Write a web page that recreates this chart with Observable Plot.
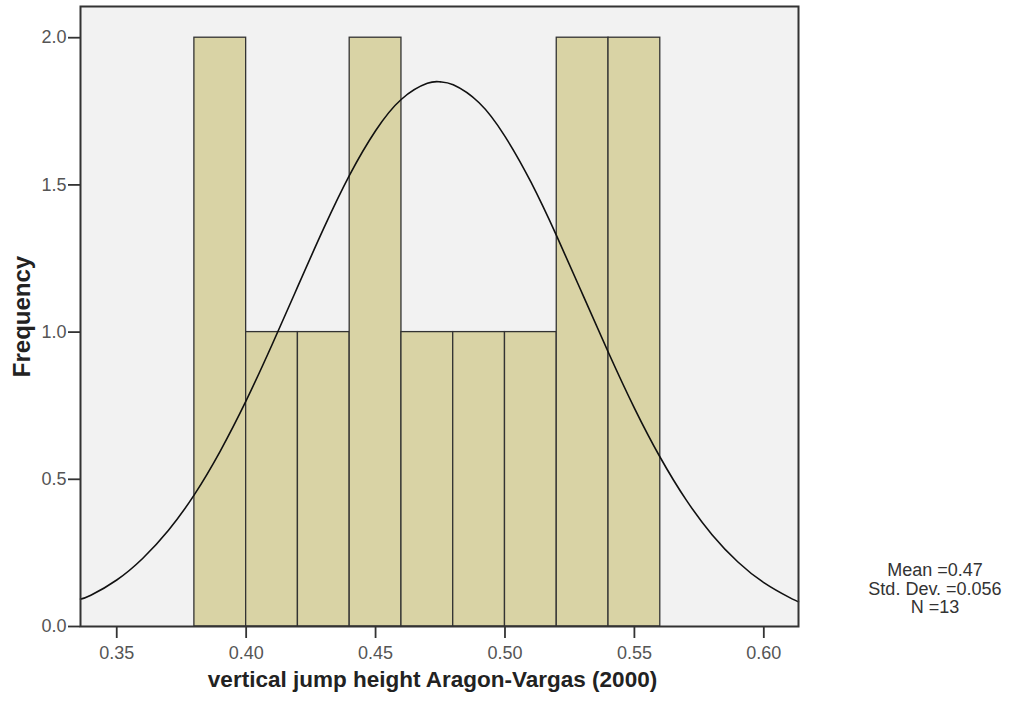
<!DOCTYPE html>
<html>
<head>
<meta charset="utf-8">
<script src="https://cdn.jsdelivr.net/npm/d3@7"></script>
<script src="https://cdn.jsdelivr.net/npm/@observablehq/plot@0.6"></script>
<style>
  html, body { margin: 0; padding: 0; background: #ffffff; }
  #wrap { position: relative; width: 1012px; height: 702px; font-family: "Liberation Sans", Arial, sans-serif; }
  #stats { position: absolute; left: 835px; top: 561px; width: 200px; text-align: center;
           font-size: 18px; line-height: 18.5px; color: #333; }
</style>
</head>
<body>
<div id="wrap"><div id="stats"></div></div>
<script>
// ---- data ----
const binLo = [0.38, 0.40, 0.42, 0.44, 0.46, 0.48, 0.50, 0.52, 0.54];
const binHi = [0.40, 0.42, 0.44, 0.46, 0.48, 0.50, 0.52, 0.54, 0.56];
const counts = [2, 1, 1, 2, 1, 1, 1, 2, 2];

// fitted normal curve
const curveX = [0.336, 0.34, 0.35, 0.36, 0.37, 0.38, 0.39, 0.40, 0.41, 0.42, 0.43, 0.44, 0.45, 0.46, 0.47, 0.475,
                0.48, 0.49, 0.50, 0.51, 0.52, 0.53, 0.54, 0.55, 0.56, 0.57, 0.58, 0.59, 0.60, 0.61, 0.6134];
const curveY = [0.093, 0.106, 0.158, 0.231, 0.327, 0.448, 0.596, 0.767, 0.957, 1.156, 1.353, 1.534, 1.684, 1.791, 1.845, 1.850,
                1.840, 1.779, 1.665, 1.510, 1.326, 1.128, 0.930, 0.742, 0.574, 0.430, 0.312, 0.219, 0.149, 0.098, 0.084];

const xTicks = [0.35, 0.40, 0.45, 0.50, 0.55, 0.60];
const yTicks = [0, 0.5, 1.0, 1.5, 2.0];
const xTitle = "vertical jump height Aragon-Vargas (2000)";
const yTitle = "Frequency";
const statLines = ["Mean =0.47", "Std. Dev. =0.056", "N =13"];

const bins = binLo.map((lo, i) => ({lo, hi: binHi[i], count: counts[i]}));
const curve = curveX.map((x, i) => ({x, y: curveY[i]}));

const chart = Plot.plot({
  width: 1012,
  height: 702,
  marginLeft: 80,
  marginRight: 214,
  marginTop: 6,
  marginBottom: 76,
  style: {fontFamily: "'Liberation Sans', Arial, sans-serif", background: "transparent"},
  x: {domain: [0.336, 0.6134]},
  y: {domain: [0, 2.106]},
  marks: [
    Plot.frame({fill: "#f2f2f2", stroke: null}),
    Plot.rectY(bins, {x1: "lo", x2: "hi", y: "count", fill: "#d9d3a5", stroke: "#333", strokeWidth: 1.3}),
    Plot.line(curve, {x: "x", y: "y", stroke: "#111", strokeWidth: 1.6, curve: "natural"}),
    Plot.frame({stroke: "#333", strokeWidth: 2}),
    Plot.axisX({ticks: xTicks, tickSize: 12, text: null, stroke: "#333", strokeWidth: 1.8, label: null}),
    Plot.axisX({ticks: xTicks, tickSize: 0, tickPadding: 20, tickFormat: d3.format(".2f"), fill: "#555", fontSize: 18, label: null}),
    Plot.axisY({ticks: yTicks, tickSize: 12, text: null, stroke: "#333", strokeWidth: 1.8, label: null}),
    Plot.axisY({ticks: yTicks, tickSize: 0, tickPadding: 14, tickFormat: d3.format(".1f"), fill: "#555", fontSize: 18, label: null}),
    Plot.text([xTitle], {frameAnchor: "bottom", dx: -7, dy: 60, fontSize: 22.5, fontWeight: "bold", fill: "#222"}),
    Plot.text([yTitle], {frameAnchor: "left", textAnchor: "middle", dx: -58, rotate: -90, fontSize: 24, fontWeight: "bold", fill: "#222"})
  ]
});
document.getElementById("wrap").prepend(chart);
document.getElementById("stats").innerHTML = statLines.map(s => `<div>${s}</div>`).join("");
</script>
</body>
</html>
